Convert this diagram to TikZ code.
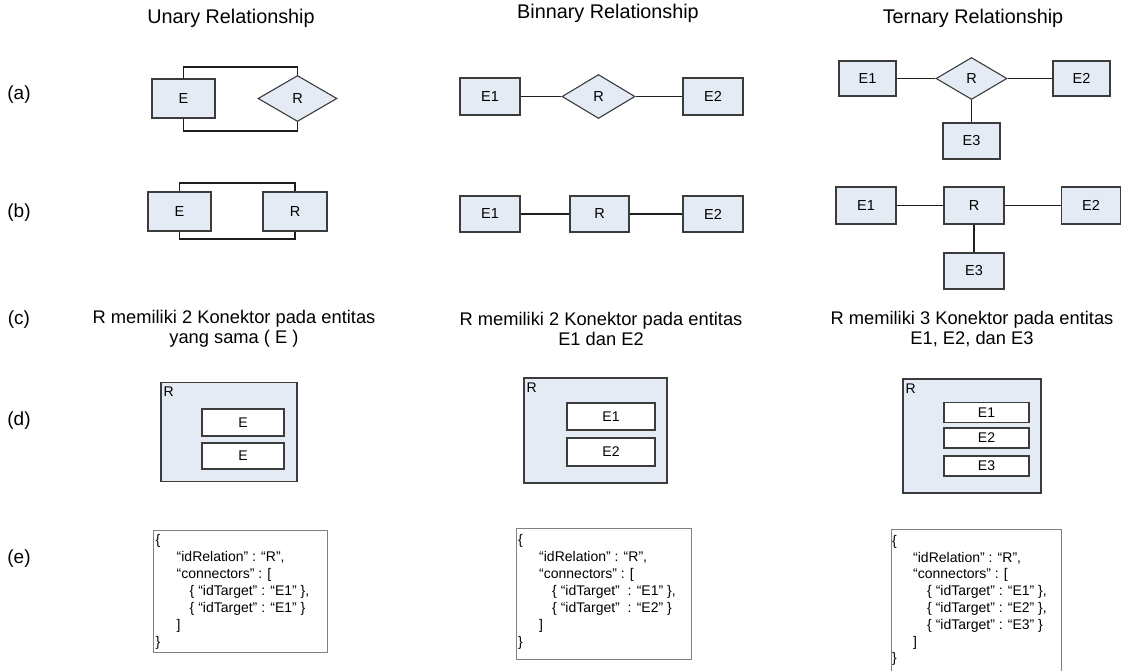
\documentclass[tikz,border=0pt]{standalone}
\usepackage{fontspec}
\setmainfont{Liberation Sans}
\usetikzlibrary{shapes.geometric}
\definecolor{fillc}{RGB}{229,235,245}
\definecolor{bordc}{RGB}{60,60,60}
\definecolor{linec}{RGB}{30,30,30}
\definecolor{grayc}{RGB}{128,128,128}
\tikzset{
  sz/.style 2 args={minimum width=#1pt, minimum height=#2pt},
  ent/.style={draw=bordc, fill=fillc, line width=1.1pt, inner sep=0pt, font=\fontsize{14.5}{16}\selectfont},
  rel/.style={ent, diamond, aspect=1.7},
  conn/.style={draw=linec, line width=1.1pt},
  head/.style={font=\fontsize{19.8}{22}\selectfont, inner sep=0pt},
  lab/.style={font=\fontsize{19}{21}\selectfont, inner sep=0pt},
  desc/.style={font=\fontsize{18.3}{20}\selectfont, align=center, inner sep=0pt},
  cont/.style={draw=bordc, fill=fillc, line width=1.1pt, inner sep=0pt},
  slot/.style={draw=bordc, fill=white, line width=1.1pt, inner sep=0pt, font=\fontsize{14}{16}\selectfont},
  rlab/.style={anchor=north west, inner sep=0pt, font=\fontsize{14}{16}\selectfont},
  json/.style={draw=grayc, line width=1pt, inner sep=0pt},
  jtext/.style={font=\fontsize{14}{17}\selectfont, align=left, anchor=north west, inner sep=0pt}
}
\begin{document}
\begin{tikzpicture}[x=1pt,y=-1pt]
\useasboundingbox (0,0) rectangle (1121,670);

% headings
\node[head] (h1) at (231,18) {Unary Relationship};
\node[head] (h2) at (608,13) {Binnary Relationship};
\node[head] (h3) at (973,18) {Ternary Relationship};

% row labels
\node[lab] (la) at (19,95) {(a)};
\node[lab] (lb) at (19,213) {(b)};
\node[lab] (lc) at (19,320) {(c)};
\node[lab] (ld) at (19,421) {(d)};
\node[lab] (le) at (19,559) {(e)};

% ---------- row (a)
\node[ent, sz={63}{39}] (uaE) at (183.5,98.5) {E};
\node[rel, sz={79}{46}] (uaR) at (297.5,98.5) {R};
\coordinate (uaTop) at (0,67);
\coordinate (uaBot) at (0,131);
\draw[conn] (uaE.north) -- (uaE.north |- uaTop) -| (uaR.north);
\draw[conn] (uaE.south) -- (uaE.south |- uaBot) -| (uaR.south);

\node[ent, sz={60}{37}] (baE1) at (490,96.5) {E1};
\node[rel, sz={73}{44}] (baR) at (598.5,96.5) {R};
\node[ent, sz={60}{37}] (baE2) at (713,96.5) {E2};
\draw[conn] (baE1.east) -- (baR.west);
\draw[conn] (baR.east) -- (baE2.west);

\node[ent, sz={57}{35}] (taE1) at (867.5,78.5) {E1};
\node[rel, sz={71}{42}] (taR) at (971.5,78.5) {R};
\node[ent, sz={57}{35}] (taE2) at (1081.5,78.5) {E2};
\node[ent, sz={57}{36}] (taE3) at (971.5,141) {E3};
\draw[conn] (taE1.east) -- (taR.west);
\draw[conn] (taR.east) -- (taE2.west);
\draw[conn] (taR.south) -- (taE3.north);

% ---------- row (b)
\node[ent, sz={63}{39}] (ubE) at (179.5,211.5) {E};
\node[ent, sz={64}{39}] (ubR) at (295,211.5) {R};
\coordinate (ubTop) at (0,183);
\coordinate (ubBot) at (0,239);
\draw[conn] (ubE.north) -- (ubE.north |- ubTop) -| (ubR.north);
\draw[conn] (ubE.south) -- (ubE.south |- ubBot) -| (ubR.south);

\node[ent, sz={60}{36}] (bbE1) at (490,214) {E1};
\node[ent, sz={59}{36}] (bbR) at (599.5,214) {R};
\node[ent, sz={60}{36}] (bbE2) at (713,214) {E2};
\draw[conn] (bbE1.east) -- (bbR.west);
\draw[conn] (bbR.east) -- (bbE2.west);

\node[ent, sz={60}{37}] (tbE1) at (866,205.5) {E1};
\node[ent, sz={60}{37}] (tbR) at (974,205.5) {R};
\node[ent, sz={59}{37}] (tbE2) at (1091,205.5) {E2};
\node[ent, sz={60}{36}] (tbE3) at (974,271) {E3};
\draw[conn] (tbE1.east) -- (tbR.west);
\draw[conn] (tbR.east) -- (tbE2.west);
\draw[conn] (tbR.south) -- (tbE3.north);

% ---------- row (c)
\node[desc] (uc) at (234,329) {R memiliki 2 Konektor pada entitas\\yang sama ( E )};
\node[desc] (bc) at (601,329) {R memiliki 2 Konektor pada entitas\\E1 dan E2};
\node[desc] (tc) at (972,329) {R memiliki 3 Konektor pada entitas\\E1, E2, dan E3};

% ---------- row (d)
\node[cont, sz={136}{99}] (ud) at (229,432) {};
\node[rlab] (udR) at ([xshift=3pt,yshift=-5pt]ud.north west) {R};
\node[slot, sz={82}{27}] (ud1) at (243,422.5) {E};
\node[slot, sz={82}{26}] (ud2) at (243,456) {E};

\node[cont, sz={143}{105}] (bd) at (595.5,430.5) {};
\node[rlab] (bdR) at ([xshift=3pt,yshift=-5pt]bd.north west) {R};
\node[slot, sz={88}{27}] (bd1) at (611,416.5) {E1};
\node[slot, sz={88}{28}] (bd2) at (611,452) {E2};

\node[cont, sz={138}{114}] (td) at (972,436) {};
\node[rlab] (tdR) at ([xshift=3pt,yshift=-5pt]td.north west) {R};
\node[slot, sz={85}{20}] (td1) at (986.5,412.5) {E1};
\node[slot, sz={85}{20}] (td2) at (986.5,438) {E2};
\node[slot, sz={85}{20}] (td3) at (986.5,466) {E3};

% ---------- row (e)
\node[json, sz={174}{122}] (ue) at (240,591) {};
\node[jtext] (uet) at ([xshift=3pt,yshift=-5pt]ue.north west) {\{\\
\hspace*{21pt}“idRelation” : “R”,\\
\hspace*{21pt}“connectors” : [\\
\hspace*{34pt}\{ “idTarget” : “E1” \},\\
\hspace*{34pt}\{ “idTarget” : “E1” \}\\
\hspace*{21pt}]\\
\}};

\node[json, sz={175}{131}] (be) at (603.5,593.5) {};
\node[jtext] (bet) at ([xshift=2.5pt,yshift=-7pt]be.north west) {\{\\
\hspace*{21pt}“idRelation” : “R”,\\
\hspace*{21pt}“connectors” : [\\
\hspace*{34pt}\{ “idTarget”\ \ : “E1” \},\\
\hspace*{34pt}\{ “idTarget”\ \ : “E2” \}\\
\hspace*{21pt}]\\
\}};

\node[json, sz={170}{151}] (te) at (976,604.5) {};
\node[jtext, font=\fontsize{14}{16.8}\selectfont] (tet) at ([xshift=1.5pt,yshift=-6.5pt]te.north west) {\{\\
\hspace*{21pt}“idRelation” : “R”,\\
\hspace*{21pt}“connectors” : [\\
\hspace*{35pt}\{ “idTarget” : “E1” \},\\
\hspace*{35pt}\{ “idTarget” : “E2” \},\\
\hspace*{35pt}\{ “idTarget” : “E3” \}\\
\hspace*{21pt}]\\
\}};
\end{tikzpicture}
\end{document}
